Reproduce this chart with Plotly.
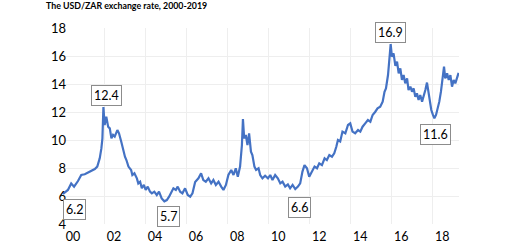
import plotly.graph_objects as go

# decimal years and USD/ZAR values
years = [2000.00, 2000.24, 2000.40, 2000.54, 2000.73, 2000.89, 2001.06, 2001.22, 2001.38, 2001.55,
         2001.67, 2001.79, 2001.87, 2001.92, 2001.97, 2002.03, 2002.11, 2002.20, 2002.28, 2002.36,
         2002.44, 2002.52, 2002.65, 2002.73, 2002.84, 2002.96, 2003.02, 2003.09, 2003.19, 2003.32,
         2003.38, 2003.48, 2003.60, 2003.67, 2003.76, 2003.84, 2003.94, 2004.03, 2004.13, 2004.24,
         2004.33, 2004.45, 2004.57, 2004.68, 2004.81, 2004.94, 2005.06, 2005.17, 2005.30, 2005.38,
         2005.50, 2005.59, 2005.71, 2005.82, 2005.95, 2006.08, 2006.20, 2006.31, 2006.44, 2006.60,
         2006.73, 2006.84, 2006.96, 2007.09, 2007.22, 2007.33, 2007.45, 2007.58, 2007.71, 2007.82,
         2007.94, 2008.06, 2008.20, 2008.31, 2008.42, 2008.52, 2008.63, 2008.72, 2008.77, 2008.83,
         2008.91, 2008.99, 2009.07, 2009.16, 2009.23, 2009.33, 2009.41, 2009.53, 2009.61, 2009.72,
         2009.85, 2009.99, 2010.10, 2010.21, 2010.34, 2010.47, 2010.59, 2010.70, 2010.83, 2010.96,
         2011.07, 2011.19, 2011.32, 2011.45, 2011.56, 2011.67, 2011.77, 2011.89, 2012.00, 2012.13,
         2012.26, 2012.38, 2012.49, 2012.62, 2012.75, 2012.86, 2012.98, 2013.11, 2013.22, 2013.32,
         2013.40, 2013.51, 2013.62, 2013.76, 2013.89, 2014.00, 2014.11, 2014.24, 2014.38, 2014.49,
         2014.60, 2014.73, 2014.86, 2014.98, 2015.09, 2015.22, 2015.33, 2015.46, 2015.58, 2015.67,
         2015.74, 2015.84, 2015.92, 2015.97, 2016.03, 2016.11, 2016.20, 2016.28, 2016.36, 2016.44,
         2016.52, 2016.60, 2016.68, 2016.77, 2016.84, 2016.93, 2017.01, 2017.09, 2017.17, 2017.25,
         2017.33, 2017.41, 2017.50, 2017.58, 2017.66, 2017.74, 2017.82, 2017.87, 2017.95, 2018.03,
         2018.10, 2018.18, 2018.26, 2018.34, 2018.42, 2018.50, 2018.57, 2018.63, 2018.72, 2018.80,
         2018.88, 2018.96, 2019.04, 2019.12, 2019.20, 2019.28]
rates = [6.15, 6.43, 6.90, 6.67, 7.07, 7.50, 7.55, 7.69, 7.79, 7.93,
         8.10, 8.69, 9.40, 10.10, 12.35, 11.07, 11.67, 10.95, 10.83, 10.12,
         10.36, 10.24, 10.71, 10.48, 9.88, 9.05, 8.81, 8.57, 8.10, 7.86,
         7.50, 7.62, 7.26, 6.90, 7.02, 6.55, 6.79, 6.43, 6.67, 6.31,
         6.19, 6.31, 6.07, 6.31, 5.83, 5.62, 5.71, 5.95, 6.31, 6.55,
         6.43, 6.67, 6.31, 6.19, 6.55, 6.07, 5.95, 6.19, 7.00, 7.26,
         7.62, 7.14, 7.02, 7.26, 6.90, 7.14, 6.79, 7.02, 6.67, 6.43,
         6.79, 7.50, 7.86, 7.50, 7.98, 7.38, 8.10, 9.64, 11.50, 10.12,
         10.36, 9.64, 10.48, 9.17, 8.93, 8.10, 7.86, 7.98, 7.50, 7.26,
         7.45, 7.26, 7.50, 7.14, 7.50, 7.26, 6.90, 7.02, 6.67, 6.83,
         6.55, 6.79, 6.50, 6.67, 6.90, 7.74, 8.21, 7.98, 7.38, 7.74,
         8.10, 7.98, 8.33, 8.21, 8.69, 8.57, 8.93, 8.81, 9.05, 9.52,
         10.00, 9.90, 10.60, 10.48, 11.07, 11.19, 10.60, 10.48, 10.71, 10.60,
         10.95, 11.19, 11.43, 11.31, 11.79, 12.02, 12.26, 12.38, 12.74, 13.45,
         13.69, 14.64, 15.83, 16.85, 15.95, 16.19, 15.30, 15.60, 14.76, 15.12,
         14.29, 14.64, 14.05, 14.40, 13.57, 13.81, 13.45, 13.69, 13.09, 13.33,
         12.86, 13.21, 12.74, 13.09, 13.57, 14.10, 13.21, 12.62, 12.14, 11.79,
         11.55, 11.79, 12.26, 12.74, 13.45, 14.40, 15.24, 14.40, 14.76, 14.29,
         14.64, 13.81, 14.29, 14.05, 14.40, 14.80]

tick_years = [2000, 2002, 2004, 2006, 2008, 2010, 2012, 2014, 2016, 2018]
tick_labels = ["00", "02", "04", "06", "08", "10", "12", "14", "16", "18"]
y_ticks = [4, 6, 8, 10, 12, 14, 16, 18]

# annotated values and their label positions
note_text = ["6.2", "12.4", "5.7", "6.6", "16.9", "11.6"]
note_x = [2000.55, 2002.10, 2005.12, 2011.51, 2015.95, 2018.15]
note_y = [5.07, 13.21, 4.57, 5.21, 17.71, 10.36]

FONT = "Lato"

fig = go.Figure()
fig.add_trace(go.Scatter(x=years, y=rates, mode="lines",
                         line=dict(color="#4472C4", width=2.2), hoverinfo="skip"))

for t, x, y in zip(note_text, note_x, note_y):
    fig.add_annotation(x=x, y=y, xref="x", yref="y", text=t, showarrow=False,
                       font=dict(family=FONT, size=12.5, color="#000000"),
                       bordercolor="#8c8c8c", borderwidth=1, borderpad=2,
                       bgcolor="#ffffff")

fig.add_annotation(x=-0.048, y=1.117, xref="paper", yref="paper",
                   text="<b>The USD/ZAR exchange rate, 2000-2019</b>",
                   showarrow=False, xanchor="left", yanchor="middle",
                   font=dict(family=FONT, size=8.8, color="#000000"))

fig.update_layout(
    width=512, height=245,
    margin=dict(l=63, r=53, t=28, b=21, autoexpand=False),
    paper_bgcolor="white", plot_bgcolor="white",
    showlegend=False,
    xaxis=dict(range=[2000, 2019.3], tickmode="array", tickvals=tick_years,
               ticktext=tick_labels, ticklabelshift=10, ticklabelstandoff=3,
               automargin=False,
               showgrid=True, gridcolor="#eeeeee", gridwidth=1, zeroline=False,
               showline=False, ticks="",
               tickfont=dict(family=FONT, size=12.5, color="#000000")),
    yaxis=dict(range=[4, 18], tickmode="array", tickvals=y_ticks,
               ticklabelstandoff=-4, automargin=False,
               showgrid=True, gridcolor="#eeeeee", gridwidth=1, zeroline=False,
               showline=False, ticks="",
               tickfont=dict(family=FONT, size=13, color="#000000")),
)

fig.write_html("out.html")
